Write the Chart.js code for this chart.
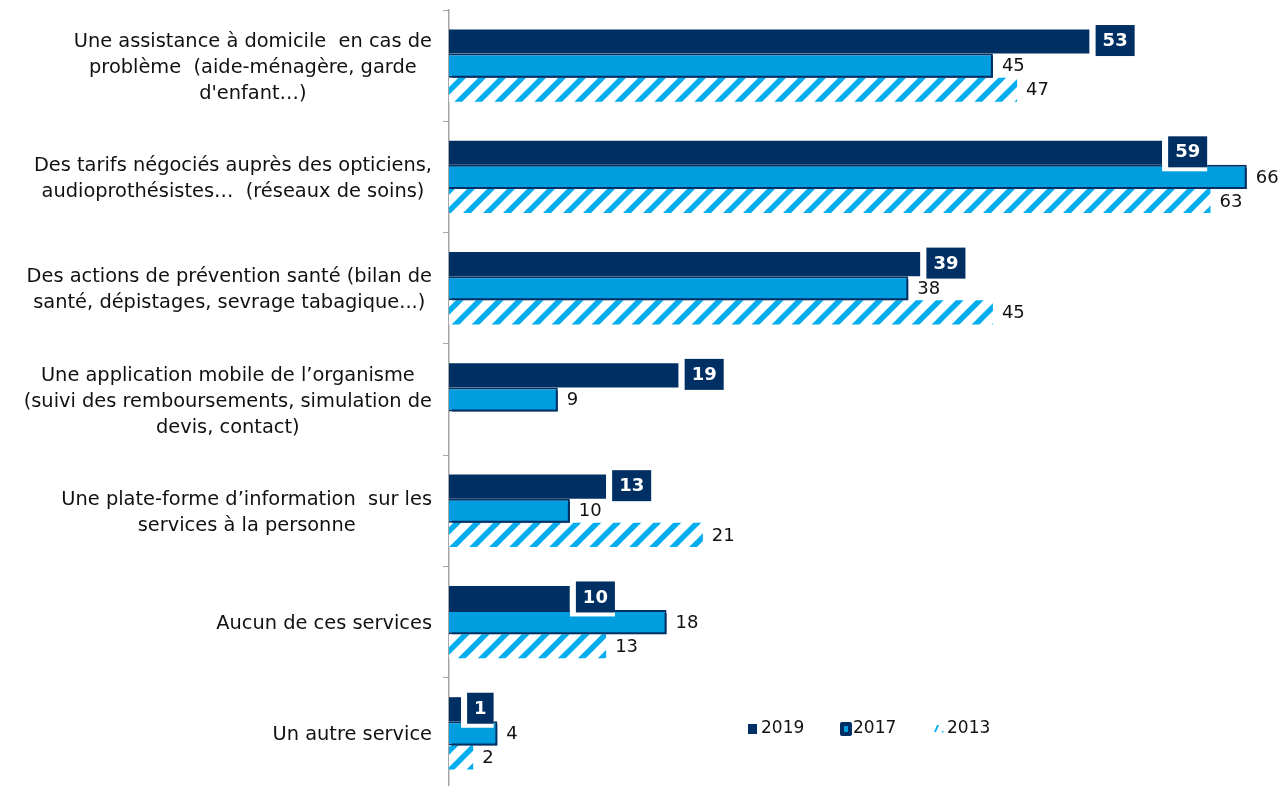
<!DOCTYPE html>
<html>
<head>
<meta charset="utf-8">
<script src="https://cdn.jsdelivr.net/npm/chart.js@4/dist/chart.umd.min.js"></script>
<style>
  html, body { margin: 0; padding: 0; background: #fff; overflow: hidden; }
  #wrap { width: 1283px; height: 790px; }
</style>
</head>
<body>
<div id="wrap"><canvas id="services" width="1283" height="790"></canvas></div>
<script>
// categories (one array of lines per label, as broken in the original)
const categories = [
    ['Une assistance à domicile  en cas de', 'problème  (aide-ménagère, garde', "d'enfant…)"],
    ['Des tarifs négociés auprès des opticiens,', 'audioprothésistes…  (réseaux de soins)'],
    ['Des actions de prévention santé (bilan de', 'santé, dépistages, sevrage tabagique...)'],
    ['Une application mobile de l’organisme', '(suivi des remboursements, simulation de', 'devis, contact)'],
    ['Une plate-forme d’information  sur les', 'services à la personne'],
    ['Aucun de ces services'],
    ['Un autre service']
];
const values2019 = [53, 59, 39, 19, 13, 10, 1];
const values2017 = [45, 66, 38, 9, 10, 18, 4];
const values2013 = [47, 63, 45, null, 21, 13, 2];
const seriesNames = ['2019', '2017', '2013'];

const NAVY = '#003063';
const BLUE = '#009ddf';
const HATCH = '#00aeef';
const FONT = 'DejaVu Sans';

// diagonal stripes on white for 2013
function makeHatch(color) {
    const s = 20;
    const c = document.createElement('canvas');
    c.width = s; c.height = s;
    const g = c.getContext('2d');
    g.fillStyle = '#fff';
    g.fillRect(0, 0, s, s);
    g.strokeStyle = color;
    g.lineWidth = 5.5;
    g.lineCap = 'square';
    g.beginPath();
    for (let k = -1; k <= 1; k++) {
        g.moveTo(k * s - 4, s + 4);
        g.lineTo(k * s + s + 4, -4);
    }
    g.stroke();
    return g.createPattern(c, 'repeat');
}
const hatch = makeHatch(HATCH);

// 2017 bars get a small navy drop shadow
const shadowPlugin = {
    id: 'shadow2017',
    beforeDatasetDraw(chart, args) {
        if (args.index !== 1) return;
        const ctx = chart.ctx;
        ctx.save();
        ctx.shadowColor = NAVY;
        ctx.shadowOffsetX = 3;
        ctx.shadowOffsetY = 3;
        ctx.shadowBlur = 0;
    },
    afterDatasetDraw(chart, args) {
        if (args.index !== 1) return;
        chart.ctx.restore();
    }
};

// value labels
const labelsPlugin = {
    id: 'valueLabels',
    afterDatasetsDraw(chart) {
        const ctx = chart.ctx;
        ctx.save();
        ctx.textBaseline = 'middle';
        // 2019: white bold text in a navy box
        const meta = chart.getDatasetMeta(0);
        const data = chart.data.datasets[0].data;
        ctx.font = 'bold 18px "' + FONT + '"';
        ctx.textAlign = 'center';
        meta.data.forEach((bar, i) => {
            const txt = String(data[i]);
            const w = ctx.measureText(txt).width + 14;
            const h = 31;
            const x = bar.x + 6;
            const y = bar.y - h / 2 - 1;
            ctx.fillStyle = '#fff';
            ctx.fillRect(bar.x, y, w + 6, h + 4);
            ctx.fillStyle = NAVY;
            ctx.fillRect(x, y, w, h);
            ctx.fillStyle = '#fff';
            ctx.fillText(txt, x + w / 2, y + h / 2 + 1);
        });
        // 2017 and 2013: plain text after the bar
        ctx.textAlign = 'left';
        ctx.font = '18px "' + FONT + '"';
        ctx.fillStyle = '#111';
        [1, 2].forEach(di => {
            const m = chart.getDatasetMeta(di);
            const d = chart.data.datasets[di].data;
            m.data.forEach((bar, i) => {
                if (d[i] == null) return;
                ctx.fillText(String(d[i]), bar.x + 9, bar.y + 1);
            });
        });
        ctx.restore();
    }
};

// category labels: block right aligned, lines centred inside the block
const categoryPlugin = {
    id: 'categoryLabels',
    afterDraw(chart) {
        const ctx = chart.ctx;
        const yScale = chart.scales.y;
        const right = chart.chartArea.left - 17;
        ctx.save();
        ctx.font = '19.4px "' + FONT + '"';
        ctx.fillStyle = '#111';
        ctx.textAlign = 'center';
        ctx.textBaseline = 'middle';
        categories.forEach((lines, i) => {
            const yc = yScale.getPixelForValue(i);
            const maxW = Math.max(...lines.map(l => ctx.measureText(l).width));
            const cx = right - maxW / 2;
            lines.forEach((l, j) => {
                ctx.fillText(l, cx, yc + 2 + (j - (lines.length - 1) / 2) * 26);
            });
        });
        ctx.restore();
    }
};

// legend inside the plot, bottom right
const legendPlugin = {
    id: 'insideLegend',
    afterDraw(chart) {
        const ctx = chart.ctx;
        const y = 729;
        ctx.save();
        ctx.font = '17px "' + FONT + '"';
        ctx.textBaseline = 'middle';
        ctx.textAlign = 'left';
        // 2019
        ctx.fillStyle = NAVY;
        ctx.fillRect(748, y - 5, 9, 10);
        ctx.fillStyle = '#111';
        ctx.fillText(seriesNames[0], 761, y);
        // 2017
        ctx.fillStyle = NAVY;
        ctx.beginPath();
        ctx.roundRect(840, y - 7, 12, 14, 2);
        ctx.fill();
        ctx.fillStyle = BLUE;
        ctx.fillRect(844, y - 3, 4, 6);
        ctx.fillStyle = '#111';
        ctx.fillText(seriesNames[1], 853, y);
        // 2013
        ctx.fillStyle = HATCH;
        ctx.beginPath();
        ctx.moveTo(934, y + 3);
        ctx.lineTo(937, y - 4);
        ctx.lineTo(939, y - 4);
        ctx.lineTo(936, y + 3);
        ctx.closePath();
        ctx.fill();
        ctx.fillRect(942, y + 2, 1.5, 1.5);
        ctx.fillStyle = '#111';
        ctx.fillText(seriesNames[2], 947, y);
        ctx.restore();
    }
};

const ctx = document.getElementById('services').getContext('2d');
new Chart(ctx, {
    type: 'bar',
    data: {
        labels: categories,
        datasets: [{
            label: seriesNames[0],
            data: values2019,
            backgroundColor: NAVY,
            borderWidth: 0
        }, {
            label: seriesNames[1],
            data: values2017,
            backgroundColor: BLUE,
            borderColor: NAVY,
            borderWidth: 2
        }, {
            label: seriesNames[2],
            data: values2013,
            backgroundColor: hatch,
            borderWidth: 0
        }]
    },
    options: {
        indexAxis: 'y',
        responsive: false,
        animation: false,
        datasets: { bar: { categoryPercentage: 0.65, barPercentage: 1.0 } },
        layout: { padding: { top: 10, right: 0, bottom: 1, left: 0 } },
        scales: {
            x: { display: false, min: 0, max: 69 },
            y: {
                ticks: { display: false },
                grid: {
                    offset: true,
                    drawOnChartArea: false,
                    tickLength: 6,
                    color: '#a6a6a6',
                    lineWidth: 1
                },
                border: { color: '#a6a6a6', width: 1.5 },
                afterFit(scale) { scale.width = 449; }
            }
        },
        plugins: {
            legend: { display: false },
            tooltip: { enabled: false }
        }
    },
    plugins: [shadowPlugin, labelsPlugin, categoryPlugin, legendPlugin]
});
</script>
</body>
</html>
